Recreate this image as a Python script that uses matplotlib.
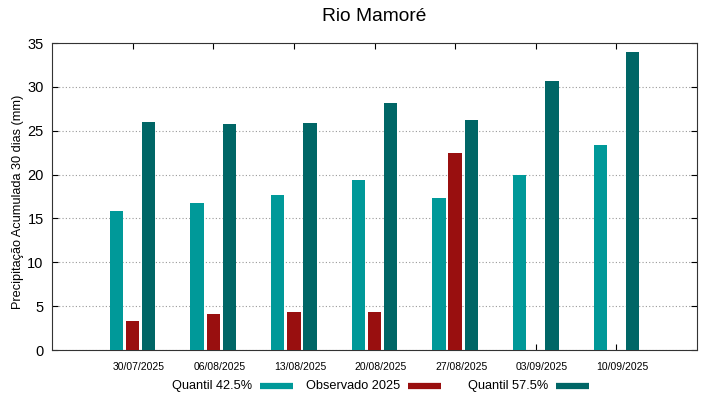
import matplotlib.pyplot as plt
import matplotlib.transforms as mtransforms
import numpy as np
from matplotlib.lines import Line2D

plt.rcParams['font.family'] = ['Liberation Sans', 'DejaVu Sans']

# data
datas = ['30/07/2025', '06/08/2025', '13/08/2025', '20/08/2025',
         '27/08/2025', '03/09/2025', '10/09/2025']
q425 = [15.9, 16.8, 17.7, 19.4, 17.3, 19.9, 23.4]
obs2025 = [3.25, 4.05, 4.35, 4.35, 22.5, np.nan, np.nan]
q575 = [26.0, 25.8, 25.9, 28.2, 26.2, 30.7, 34.0]
series_labels = ['Quantil 42.5%', 'Observado 2025', 'Quantil 57.5%']

cor_q425 = '#009999'
cor_obs = '#990f0f'
cor_q575 = '#006666'
cores = [cor_q425, cor_obs, cor_q575]

W, H = 719, 399
fig = plt.figure(figsize=(W / 100, H / 100), dpi=100)
ax = fig.add_axes([52 / W, 49 / H, 645 / W, 307 / H])

x = np.arange(len(datas))
w = 0.165
ax.bar(x - 0.2, q425, w, color=cor_q425, zorder=3)
ax.bar(x, obs2025, w, color=cor_obs, zorder=3)
ax.bar(x + 0.2, q575, w, color=cor_q575, zorder=3)

ax.set_xlim(-1, 7)
ax.set_ylim(0, 35)
ax.set_yticks(np.arange(0, 36, 5))
ax.set_xticks(x)
ax.set_xticklabels(datas, fontsize=7.5)
ax.tick_params(axis='both', direction='in', top=True, right=True, length=4, width=0.8)
ax.tick_params(axis='y', labelsize=10.5, pad=6)
ax.tick_params(axis='x', pad=9)

# gnuplot style: labels slightly to the right of the tick
offset = mtransforms.ScaledTranslation(6 / 100, 0, fig.dpi_scale_trans)
for lab in ax.get_xticklabels():
    lab.set_transform(lab.get_transform() + offset)

ax.grid(axis='y', linestyle=(0, (1, 2)), color='#999999', linewidth=0.8, zorder=0)
for s in ax.spines.values():
    s.set_linewidth(0.8)
    s.set_color('#333333')

ax.set_ylabel('Precipitação Acumulada 30 dias (mm)', fontsize=9.2)
ax.yaxis.set_label_coords(-0.043, 0.484)
ax.set_title('Rio Mamoré', fontsize=13.8, pad=16)

# legend in gnuplot layout: fixed-width columns, text right aligned before the swatch
y_leg = 1 - 386 / H
for i, (lab, c) in enumerate(zip(series_labels, cores)):
    x0 = 148 * i
    fig.text((252 + x0) / W, y_leg, lab, ha='right', va='center', fontsize=9.2)
    fig.add_artist(Line2D([(260 + x0) / W, (293 + x0) / W], [y_leg, y_leg],
                          transform=fig.transFigure, color=c, lw=4.5,
                          solid_capstyle='butt'))

fig.savefig('out.png', dpi=100)
